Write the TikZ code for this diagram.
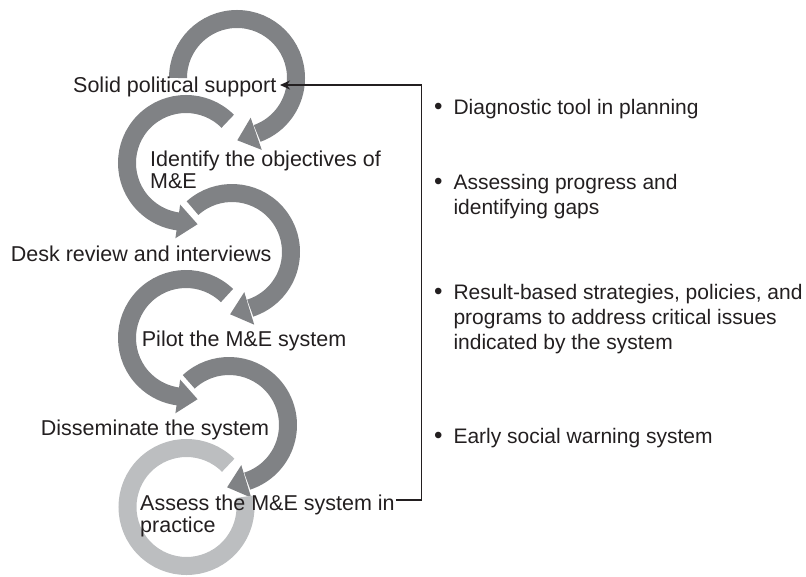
\documentclass[tikz,border=0pt]{standalone}
\usepackage{fontspec}
\setmainfont{Liberation Sans}
\usetikzlibrary{calc,arrows.meta}
\definecolor{bandgray}{HTML}{808285}
\definecolor{ringgray}{HTML}{BCBEC0}
\definecolor{txt}{HTML}{231F20}
\newcommand{\mylines}[1]{\begin{tabular}[t]{@{}l@{}}#1\end{tabular}}
\newcommand{\myitems}[1]{\begin{tabular}[t]{@{}l@{}l@{}}#1\end{tabular}}
\newcommand{\bul}{\makebox[19.3pt][l]{\raisebox{0pt}{\scalebox{1.15}{•}}}}
\begin{document}
\begin{tikzpicture}[x=1pt,y=1pt,
  band/.style={draw=bandgray,line width=18pt},
  ring/.style={draw=ringgray,line width=18pt},
  head/.style={fill=bandgray},
  lbl/.style={anchor=base west,inner sep=0pt,text=txt,font=\fontsize{21.5}{21.7}\selectfont},
  item/.style={anchor=base west,inner sep=0pt,text=txt,font=\fontsize{21}{25}\selectfont},
  connector/.style={draw=txt,line width=1.3pt,-{Stealth[length=10pt,width=9pt]}}]
\useasboundingbox (0,0) rectangle (806,-577);
\coordinate (C1) at (237,-78);
\coordinate (C2) at (186,-163);
\coordinate (C3) at (232,-252);
\coordinate (C4) at (186,-338);
\coordinate (C5) at (229,-425);
\coordinate (C6) at (186.5,-507);
% arc 1 (clockwise)
\draw[band] ($(C1)+(180:59)$) arc[start angle=180,end angle=-70,radius=59];
\fill[head] ($(C1)+(-71:76)$) -- ($(C1)+(-71:42)$) -- ($(C1)+(-71:59)+(-161:20)$) -- cycle;
% arc 2 (counter-clockwise)
\draw[band] ($(C2)+(45:59)$) arc[start angle=45,end angle=263,radius=59];
\fill[head] ($(C2)+(262:76)$) -- ($(C2)+(262:42)$) -- ($(C2)+(262:59)+(352:20)$) -- cycle;
% arc 3 (clockwise)
\draw[band] ($(C3)+(132:59)$) arc[start angle=132,end angle=-72,radius=59];
\fill[head] ($(C3)+(-73:76)$) -- ($(C3)+(-73:42)$) -- ($(C3)+(-73:59)+(-163:20)$) -- cycle;
% arc 4 (counter-clockwise)
\draw[band] ($(C4)+(46:59)$) arc[start angle=46,end angle=263,radius=59];
\fill[head] ($(C4)+(262:76)$) -- ($(C4)+(262:42)$) -- ($(C4)+(262:59)+(352:20)$) -- cycle;
% arc 5 (clockwise)
\draw[band] ($(C5)+(133:59)$) arc[start angle=133,end angle=-72,radius=59];
\fill[head] ($(C5)+(-73:76)$) -- ($(C5)+(-73:42)$) -- ($(C5)+(-73:59)+(-163:20)$) -- cycle;
% ring 6
\draw[ring] ($(C6)+(45:59)$) arc[start angle=45,end angle=370,radius=59];
% labels
\node[lbl] (solid) at (73,-92.3) {Solid political support};
\node[lbl] (identify) at (150,-166.7) {\mylines{Identify the objectives of\\M\&E}};
\node[lbl] (desk) at (10.7,-261.7) {Desk review and interviews};
\node[lbl] (pilot) at (141.7,-346.7) {Pilot the M\&E system};
\node[lbl] (dissem) at (40.7,-435) {Disseminate the system};
\node[lbl] (assess) at (140,-510) {\mylines{Assess the M\&E system in\\practice}};
% right column
\node[item] (i1) at (434,-115) {\myitems{\bul&Diagnostic tool in planning}};
\node[item] (i2) at (434,-190) {\myitems{\bul&Assessing progress and\\&identifying gaps}};
\node[item] (i3) at (434,-300) {\myitems{\bul&Result-based strategies, policies, and\\&programs to address critical issues\\&indicated by the system}};
\node[item] (i4) at (434,-443) {\myitems{\bul&Early social warning system}};
% feedback connector
\coordinate (brk) at (421.7,-85);
\coordinate (tipS) at (280,-85);
\draw[connector] ($(assess.base east)+(1,10)$) -| (brk) -- (tipS);
\end{tikzpicture}
\end{document}
